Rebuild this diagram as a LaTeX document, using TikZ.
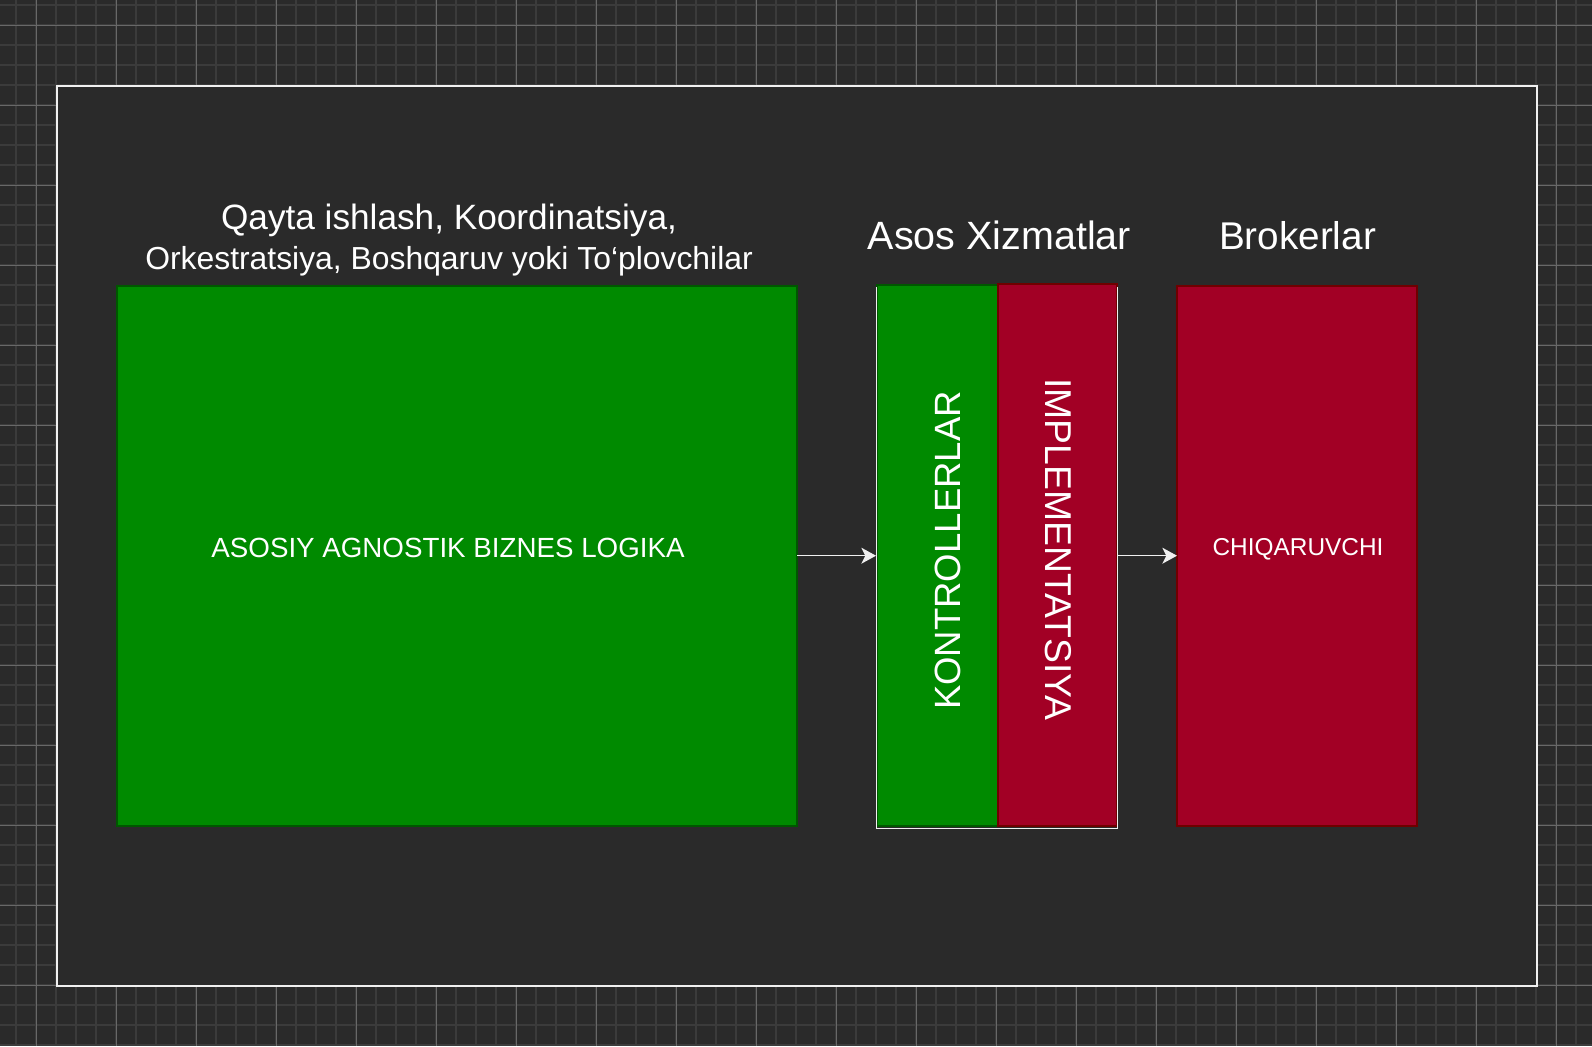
\documentclass[tikz,border=0pt]{standalone}
\usepackage{fontspec}
\setmainfont{Liberation Sans}
\usetikzlibrary{arrows.meta}

\definecolor{canvasbg}{HTML}{2A2A2A}
\definecolor{gridminor}{HTML}{3B3B3B}
\definecolor{gridmajor}{HTML}{686868}
\definecolor{framewhite}{HTML}{F0F0F0}
\definecolor{greenfill}{HTML}{008A00}
\definecolor{greenline}{HTML}{005700}
\definecolor{redfill}{HTML}{A20025}
\definecolor{redline}{HTML}{6F0000}

\begin{document}
\begin{tikzpicture}[x=0.75pt,y=0.75pt,yscale=-1,xscale=1,
  minorline/.style={draw=gridminor,line width=1.5pt},
  majorline/.style={draw=gridmajor,line width=0.75pt},
  greenbox/.style={draw=greenline,fill=greenfill,line width=1.5pt,inner sep=0pt,outer sep=0pt},
  redbox/.style={draw=redline,fill=redfill,line width=1.5pt,inner sep=0pt,outer sep=0pt},
  label/.style={text=white,inner sep=0pt,anchor=base},
  flow/.style={draw=framewhite,line width=1pt,-{Stealth[length=11pt,width=12pt,inset=3pt]}}]
\useasboundingbox (0,0) rectangle (1592,1046);

% Canvas and grid
\fill[canvasbg] (0,0) rectangle (1592,1046);
\foreach \gx in {16,36,...,1576} \draw[minorline] (\gx,0) -- (\gx,1046);
\foreach \gy in {5,25,...,1045} \draw[minorline] (0,\gy) -- (1592,\gy);
\foreach \gx in {36,116,...,1556} \draw[majorline] (\gx,0) -- (\gx,1046);
\foreach \gy in {25,105,...,1025} \draw[majorline] (0,\gy) -- (1592,\gy);

% Frame
\draw[draw=framewhite,fill=canvasbg,line width=1.5pt] (57,86) rectangle (1537,986);

% Logic block
\node[greenbox,minimum width=510pt,minimum height=405pt] (logic) at (457,556) {};
% Text Node
\draw (448,557.3) node [label,font=\fontsize{20.8pt}{24pt}\selectfont] (logictxt) {ASOSIY AGNOSTIK BIZNES LOGIKA};
% Text Node
\draw (449,269) node [label,align=center] (coordtxt) {{\fontsize{26.4pt}{30pt}\selectfont Qayta ishlash, Koordinatsiya,}\\[6pt]{\fontsize{23.9pt}{30pt}\selectfont Orkestratsiya, Boshqaruv yoki To‘plovchilar}};

% Core services
\node[draw=framewhite,line width=0.75pt,inner sep=0pt,outer sep=0pt,minimum width=180.75pt,minimum height=405.75pt] (core) at (996.5,557.5) {};
\node[greenbox,minimum width=90.75pt,minimum height=405.75pt] (ctrl) at (937.5,555.5) {};
\node[redbox,minimum width=89.25pt,minimum height=406.5pt] (impl) at (1057.5,555) {};
\draw[draw=framewhite,line width=0.75pt] (core.north west) -- (core.south west) -- (core.south east) -- (core.north east);
% Text Node
\draw (960,550.5) node [label,rotate=90,font=\fontsize{27.4pt}{30pt}\selectfont] (ctrltxt) {KONTROLLERLAR};
% Text Node
\draw (1045,549.5) node [label,rotate=-90,font=\fontsize{28pt}{30pt}\selectfont] (impltxt) {IMPLEMENTATSIYA};
% Text Node
\draw (999.5,249) node [label,font=\fontsize{29.6pt}{32pt}\selectfont] (coretxt) {Asos Xizmatlar};

% Brokers
\node[redbox,minimum width=180pt,minimum height=405pt] (broker) at (1297,556) {};
% Text Node
\draw (1298,555) node [label,font=\fontsize{18.3pt}{22pt}\selectfont] (brokertxt) {CHIQARUVCHI};
% Text Node
\draw (1297.5,249) node [label,font=\fontsize{29pt}{32pt}\selectfont] (brokerttl) {Brokerlar};

% Connection
\draw[flow] (logic.east |- 0,555.7) -- (core.west |- 0,555.7);
% Connection
\draw[flow] (core.east |- 0,555.7) -- (broker.west |- 0,555.7);

\end{tikzpicture}
\end{document}
